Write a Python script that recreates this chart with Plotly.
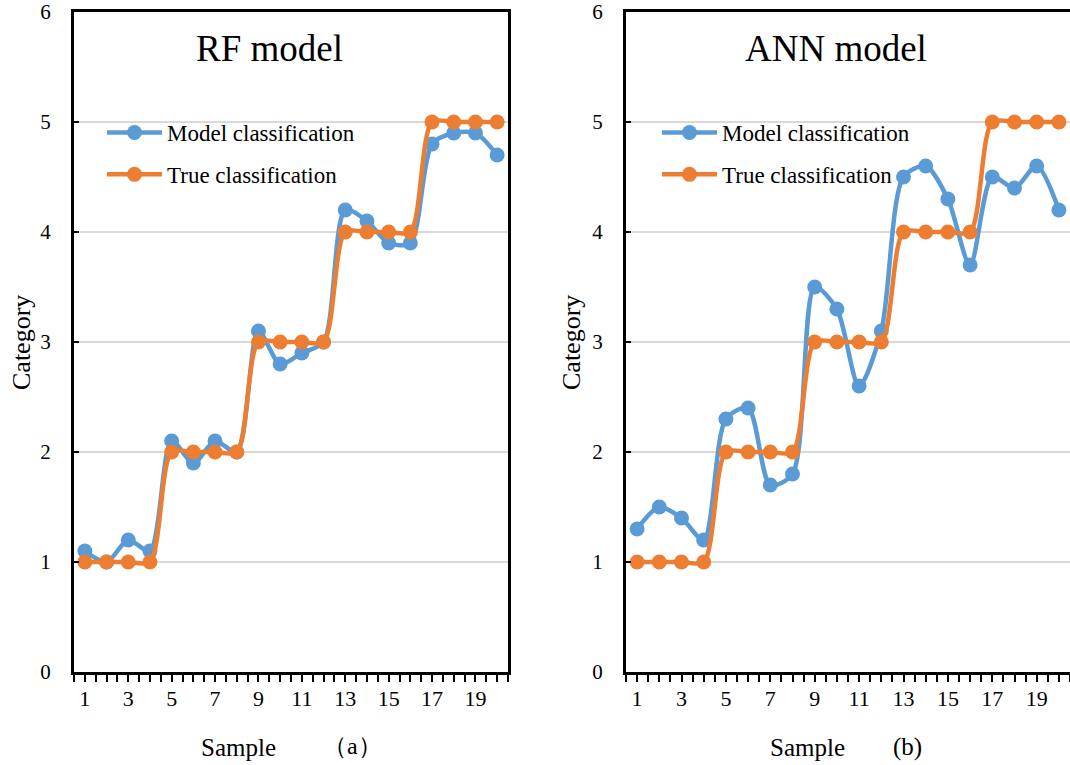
import plotly.graph_objects as go

FW, FH = 1070, 765

samples = list(range(1, 21))
true_class = [1, 1, 1, 1, 2, 2, 2, 2, 3, 3, 3, 3, 4, 4, 4, 4, 5, 5, 5, 5]
rf_model = [1.1, 1.0, 1.2, 1.1, 2.1, 1.9, 2.1, 2.0, 3.1, 2.8,
            2.9, 3.0, 4.2, 4.1, 3.9, 3.9, 4.8, 4.9, 4.9, 4.7]
ann_model = [1.3, 1.5, 1.4, 1.2, 2.3, 2.4, 1.7, 1.8, 3.5, 3.3,
             2.6, 3.1, 4.5, 4.6, 4.3, 3.7, 4.5, 4.4, 4.6, 4.2]

x_tickvals = [v / 2 for v in range(1, 42)]
x_ticktext = [str(int(v)) if (v == int(v) and int(v) % 2 == 1) else "" for v in x_tickvals]

BLUE = "#5B9BD5"
ORANGE = "#ED7D31"
FONT = "Liberation Serif"


def px(x):
    return min(1.0, x / FW)


def py(y):
    return 1 - y / FH


fig = go.Figure()

panels = [
    ("x", "y", "legend", rf_model),
    ("x2", "y2", "legend2", ann_model),
]
for xa, ya, lg, model in panels:
    fig.add_trace(go.Scatter(
        x=samples, y=model, xaxis=xa, yaxis=ya, legend=lg,
        name="Model classification", legendgroup=lg + "m",
        mode="lines+markers", line=dict(color=BLUE, width=4.5, shape="spline", smoothing=0.8),
        marker=dict(color=BLUE, size=15), cliponaxis=False,
    ))
    fig.add_trace(go.Scatter(
        x=samples, y=true_class, xaxis=xa, yaxis=ya, legend=lg,
        name="True classification", legendgroup=lg + "t",
        mode="lines+markers", line=dict(color=ORANGE, width=4.5, shape="spline", smoothing=0.8),
        marker=dict(color=ORANGE, size=15), cliponaxis=False,
    ))

xaxis_common = dict(
    range=[0.5, 20.5], tickmode="array", tickvals=x_tickvals, ticktext=x_ticktext,
    ticks="outside", ticklen=7, tickwidth=2, tickcolor="black",
    showline=True, linecolor="black", linewidth=3, mirror=True,
    showgrid=False, zeroline=False, ticklabeloverflow="allow",
    tickfont=dict(family=FONT, size=22, color="black"), ticklabelstandoff=-2,
)
yaxis_common = dict(
    range=[0, 6], dtick=1, ticks="inside", ticklen=5, tickwidth=2, tickcolor="black",
    showline=True, linecolor="black", linewidth=3, mirror=True,
    showgrid=True, gridcolor="#D9D9D9", gridwidth=1.5, zeroline=False,
    ticklabeloverflow="allow",
    tickfont=dict(family=FONT, size=21, color="black"), ticklabelstandoff=16,
    domain=[py(672), py(12)],
)

fig.update_layout(
    width=FW, height=FH,
    margin=dict(l=0, r=0, t=0, b=0, autoexpand=False),
    paper_bgcolor="white", plot_bgcolor="white",
    xaxis=dict(domain=[px(74), px(508)], anchor="y", **xaxis_common),
    yaxis=dict(anchor="x", **yaxis_common),
    xaxis2=dict(domain=[px(626), px(1070)], anchor="y2", **xaxis_common),
    yaxis2=dict(anchor="x2", **yaxis_common),
    legend=dict(x=px(102), y=py(111), xanchor="left", yanchor="top",
                bgcolor="rgba(0,0,0,0)", itemwidth=55, tracegroupgap=9,
                font=dict(family=FONT, size=23, color="black")),
    legend2=dict(x=px(657), y=py(111), xanchor="left", yanchor="top",
                 bgcolor="rgba(0,0,0,0)", itemwidth=55, tracegroupgap=9,
                 font=dict(family=FONT, size=23, color="black")),
    showlegend=True,
)

ann = [
    ("RF model", 270, 48, 37, 0),
    ("ANN model", 836, 48, 37, 0),
    ("Category", 22, 343, 26, -90),
    ("Category", 572, 343, 26, -90),
    ("Sample", 238, 747, 25, 0),
    ("（a）", 352, 746, 24, 0),
    ("Sample", 807, 747, 25, 0),
    ("(b)", 907, 747, 25, 0),
]
for text, x, y, size, ang in ann:
    fig.add_annotation(text=text, x=px(x), y=py(y), xref="paper", yref="paper",
                       xanchor="center", yanchor="middle", showarrow=False, textangle=ang,
                       font=dict(family=FONT, size=size, color="black"))

fig.write_html("out.html", config={"displayModeBar": False},
               post_script="document.body.style.margin='0';")
